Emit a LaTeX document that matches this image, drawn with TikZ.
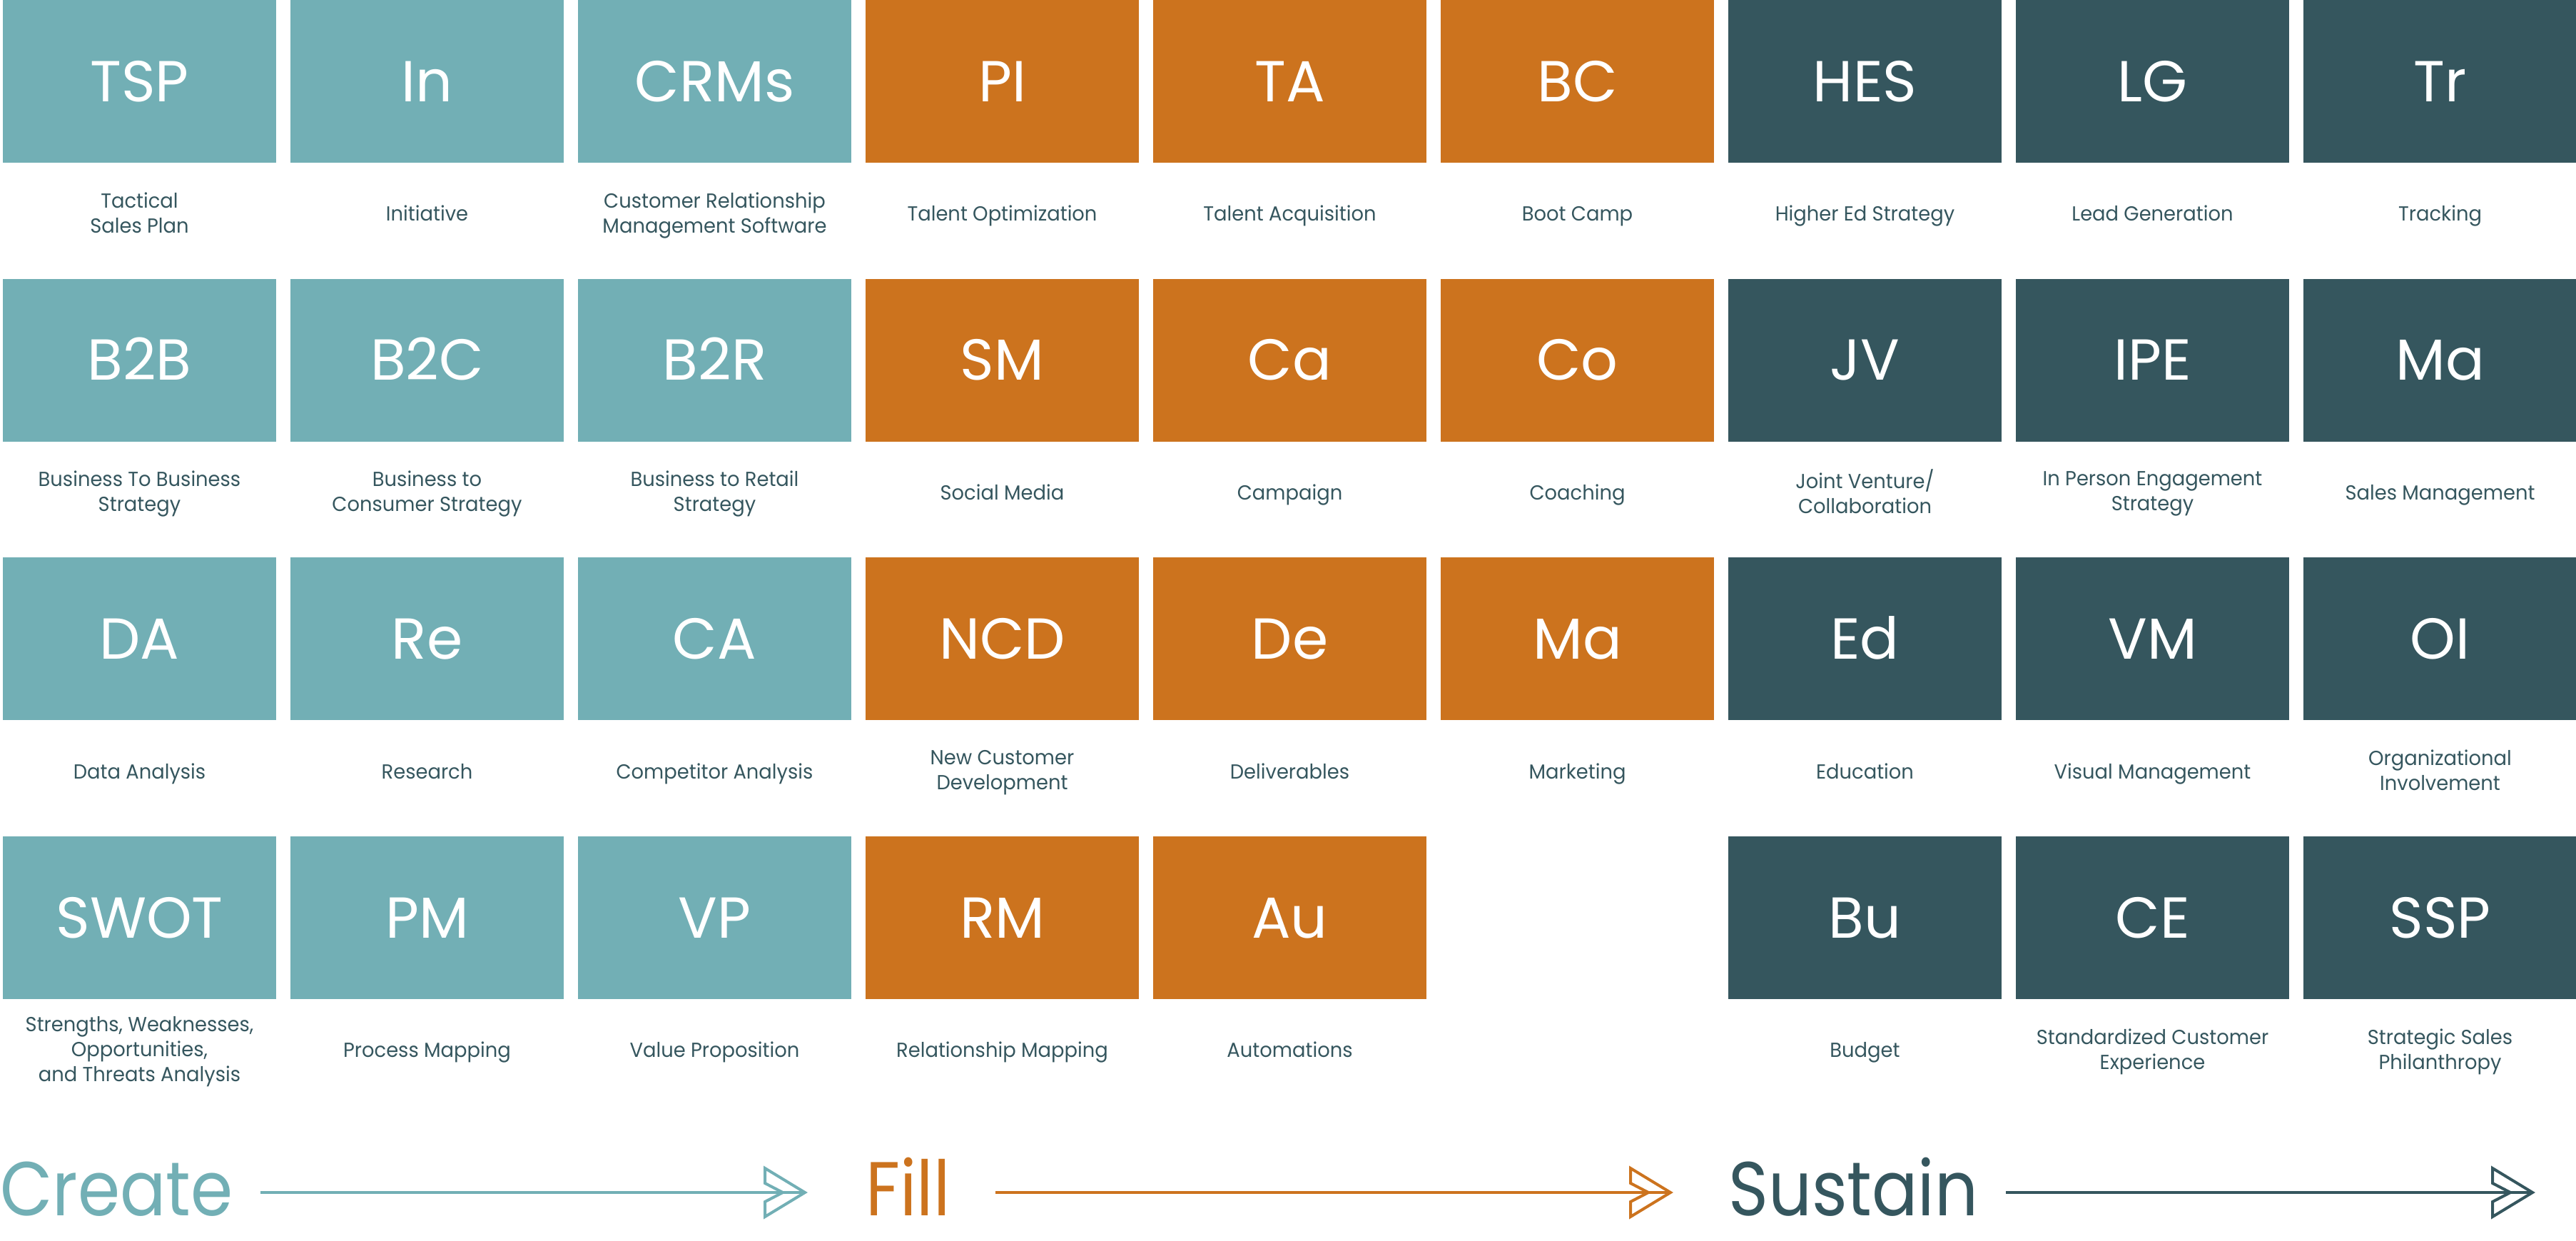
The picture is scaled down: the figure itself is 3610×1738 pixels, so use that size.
\documentclass[tikz,border=0pt]{standalone}
\usepackage{fontspec}
\setmainfont{Poppins}
\newfontfamily\lblfont[FakeStretch=0.96]{Poppins}
\newfontfamily\bigfont[FakeStretch=0.89]{Poppins}
\definecolor{cteal}{HTML}{72AFB5}
\definecolor{corange}{HTML}{CC731E}
\definecolor{cdark}{HTML}{35565E}
\newcommand\sr{\rule[-0.3em]{0pt}{1.15em}}
\newcommand\mkcell[6]{%
  \node[cellbox, fill=#4] (#1) at ({4+403*#2+191.5},{390.67*#3+114}) {};
  \node[abbr] (#1-t) at ({4+403*#2+191.5},{390.67*#3+142}) {#5};
  \node[lbl] (#1-l) at ({4+403*#2+191.5},{390.67*#3+302}) {#6};
}
\begin{document}
\begin{tikzpicture}[x=1pt,y=-1pt,
  cellbox/.style={rectangle, draw=none, inner sep=0pt, minimum width=383pt, minimum height=228pt},
  abbr/.style={anchor=base, inner sep=0pt, text=white, font=\fontsize{81}{96}\selectfont},
  lbl/.style={anchor=center, inner sep=0pt, align=center, text=cdark,
    font=\lblfont\fontsize{28.5}{35}\selectfont, execute at begin node=\sr, execute at end node=\sr},
  big/.style={anchor=base west, inner sep=0pt, font=\bigfont\fontsize{107}{120}\selectfont},
  flow/.style={line width=4pt},
  chev/.style={line width=4pt, line join=miter}]
\useasboundingbox (0,0) rectangle (3610,1738);
% row 0
\mkcell{c00}{0}{0}{cteal}{TSP}{Tactical\\Sales Plan}
\mkcell{c01}{1}{0}{cteal}{In}{Initiative}
\mkcell{c02}{2}{0}{cteal}{CRMs}{Customer Relationship\\Management Software}
\mkcell{c03}{3}{0}{corange}{PI}{Talent Optimization}
\mkcell{c04}{4}{0}{corange}{TA}{Talent Acquisition}
\mkcell{c05}{5}{0}{corange}{BC}{Boot Camp}
\mkcell{c06}{6}{0}{cdark}{HES}{Higher Ed Strategy}
\mkcell{c07}{7}{0}{cdark}{LG}{Lead Generation}
\mkcell{c08}{8}{0}{cdark}{Tr}{Tracking}
% row 1
\mkcell{c10}{0}{1}{cteal}{B2B}{Business To Business\\Strategy}
\mkcell{c11}{1}{1}{cteal}{B2C}{Business to\\Consumer Strategy}
\mkcell{c12}{2}{1}{cteal}{B2R}{Business to Retail\\Strategy}
\mkcell{c13}{3}{1}{corange}{SM}{Social Media}
\mkcell{c14}{4}{1}{corange}{Ca}{Campaign}
\mkcell{c15}{5}{1}{corange}{Co}{Coaching}
\mkcell{c16}{6}{1}{cdark}{JV}{Joint Venture/\\Collaboration}
\mkcell{c17}{7}{1}{cdark}{IPE}{In Person Engagement\\Strategy}
\mkcell{c18}{8}{1}{cdark}{Ma}{Sales Management}
% row 2
\mkcell{c20}{0}{2}{cteal}{DA}{Data Analysis}
\mkcell{c21}{1}{2}{cteal}{Re}{Research}
\mkcell{c22}{2}{2}{cteal}{CA}{Competitor Analysis}
\mkcell{c23}{3}{2}{corange}{NCD}{New Customer\\Development}
\mkcell{c24}{4}{2}{corange}{De}{Deliverables}
\mkcell{c25}{5}{2}{corange}{Ma}{Marketing}
\mkcell{c26}{6}{2}{cdark}{Ed}{Education}
\mkcell{c27}{7}{2}{cdark}{VM}{Visual Management}
\mkcell{c28}{8}{2}{cdark}{OI}{Organizational\\Involvement}
% row 3
\mkcell{c30}{0}{3}{cteal}{SWOT}{Strengths, Weaknesses,\\Opportunities,\\and Threats Analysis}
\mkcell{c31}{1}{3}{cteal}{PM}{Process Mapping}
\mkcell{c32}{2}{3}{cteal}{VP}{Value Proposition}
\mkcell{c33}{3}{3}{corange}{RM}{Relationship Mapping}
\mkcell{c34}{4}{3}{corange}{Au}{Automations}
\mkcell{c36}{6}{3}{cdark}{Bu}{Budget}
\mkcell{c37}{7}{3}{cdark}{CE}{Standardized Customer\\Experience}
\mkcell{c38}{8}{3}{cdark}{SSP}{Strategic Sales\\Philanthropy}
% bottom flow
\node[big, text=cteal] (create) at (0,1703) {Create};
\node[big, text=corange] (fill) at (1213,1703) {Fill};
\node[big, text=cdark] (sustain) at (2422,1703) {Sustain};
\coordinate (a1s) at (365,1671);  \coordinate (a1e) at (1128,1671);
\coordinate (a2s) at (1395,1671); \coordinate (a2e) at (2341,1671);
\coordinate (a3s) at (2811,1671); \coordinate (a3e) at (3549,1671);
\draw[flow, cteal] (a1s) -- (a1e);
\draw[chev, cteal] (a1e) -- ++(-56,-34) -- ++(0,21) -- ++(25,13) -- ++(-25,13) -- ++(0,21) -- cycle;
\draw[flow, corange] (a2s) -- (a2e);
\draw[chev, corange] (a2e) -- ++(-56,-34) -- ++(0,21) -- ++(25,13) -- ++(-25,13) -- ++(0,21) -- cycle;
\draw[flow, cdark] (a3s) -- (a3e);
\draw[chev, cdark] (a3e) -- ++(-56,-34) -- ++(0,21) -- ++(25,13) -- ++(-25,13) -- ++(0,21) -- cycle;
\end{tikzpicture}
\end{document}
